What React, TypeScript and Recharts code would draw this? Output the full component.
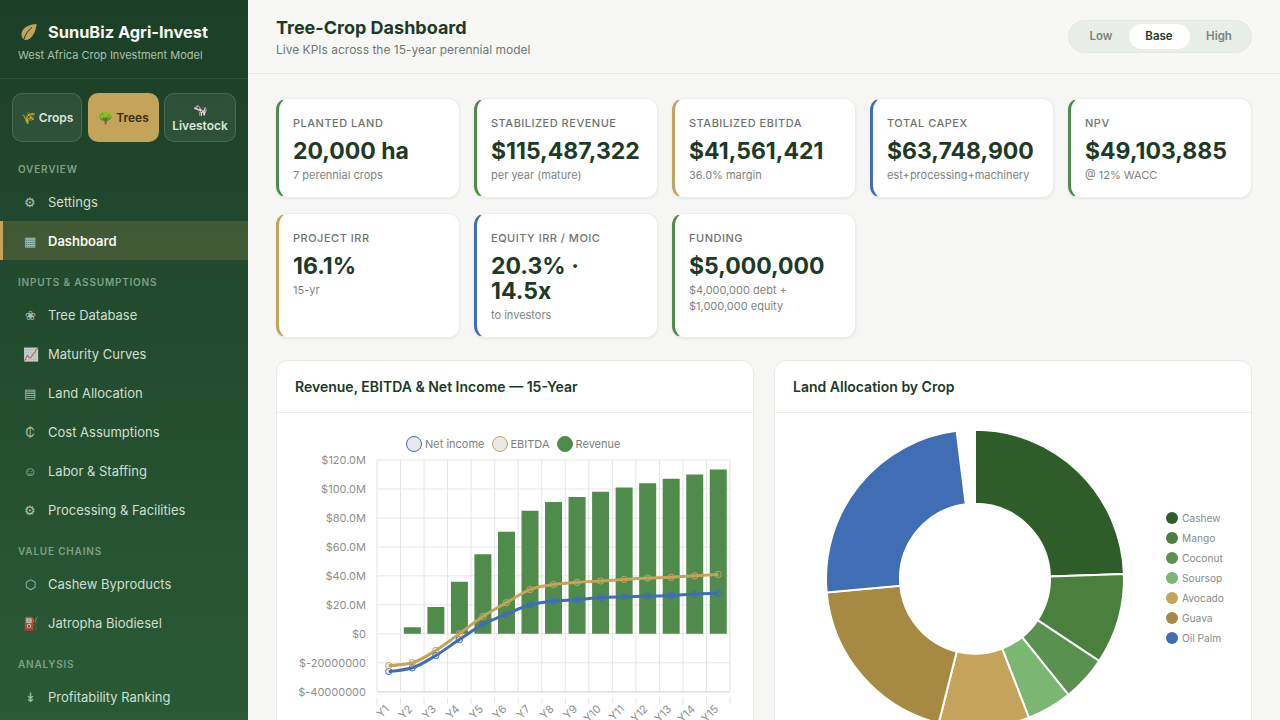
import React from 'react';
import { ComposedChart, Bar, Line, XAxis, YAxis, CartesianGrid, Legend, PieChart, Pie, Cell } from 'recharts';

const years = ['Y1','Y2','Y3','Y4','Y5','Y6','Y7','Y8','Y9','Y10','Y11','Y12','Y13','Y14','Y15'];
const revenue = [0,4.5,18.5,36,55,70.5,85,91,94.5,98,101,104,107,110,113.5];
const ebitda = [-22,-20,-11.5,0,12,21.5,30.5,34,35.5,36.5,37.5,38.5,39,40,41];
const netIncome = [-26,-23.5,-15,-4,6.5,13.5,20,22.5,23.5,25,25.5,26,26.5,27.5,28];
const yTicks = [-40,-20,0,20,40,60,80,100,120];
const yTickLabels = ['$-40000000','$-20000000','$0','$20.0M','$40.0M','$60.0M','$80.0M','$100.0M','$120.0M'];
const crops = ['Cashew','Mango','Coconut','Soursop','Avocado','Guava','Oil Palm'];
const hectares = [5000,2000,1000,1000,2000,4000,5000];
const cropColors = ['#2f5d2a','#4a7f3e','#5a9150','#7bb672','#c4a35a','#a68a42','#3f6eb5'];

const comboTable = years.map((y,i)=>({y, revenue:revenue[i], ebitda:ebitda[i], netIncome:netIncome[i]}));
const cropTable = crops.map((name,i)=>({name, value:hectares[i]}));

const GREEN='#4f8c4b', GOLD='#c4a35a', BLUE='#3f6eb5';
const font = "Inter, 'Noto Sans', sans-serif";

const kpis = [
  {label:'Planted Land', value:'20,000 ha', sub:'7 perennial crops', color:GREEN, x:276,y:98,h:100},
  {label:'Stabilized Revenue', value:'$115,487,322', sub:'per year (mature)', color:GREEN, x:474,y:98,h:100},
  {label:'Stabilized EBITDA', value:'$41,561,421', sub:'36.0% margin', color:GOLD, x:672,y:98,h:100},
  {label:'Total CAPEX', value:'$63,748,900', sub:'est+processing+machinery', color:BLUE, x:870,y:98,h:100},
  {label:'NPV', value:'$49,103,885', sub:'@ 12% WACC', color:GREEN, x:1068,y:98,h:100},
  {label:'Project IRR', value:'16.1%', sub:'15-yr', color:GOLD, x:276,y:213,h:125},
  {label:'Equity IRR / MOIC', value:'20.3% · 14.5x', sub:'to investors', color:BLUE, x:474,y:213,h:125},
  {label:'Funding', value:'$5,000,000', sub:'$4,000,000 debt + $1,000,000 equity', color:GREEN, x:672,y:213,h:125},
];

const nav: any[] = [
  {h:'OVERVIEW', y:170},
  {t:'Settings', i:'⚙', y:202},
  {t:'Dashboard', i:'▦', y:241, active:true},
  {h:'INPUTS & ASSUMPTIONS', y:283},
  {t:'Tree Database', i:'❀', y:315},
  {t:'Maturity Curves', i:'📈', y:354},
  {t:'Land Allocation', i:'▤', y:393},
  {t:'Cost Assumptions', i:'₵', y:432},
  {t:'Labor & Staffing', i:'☺', y:471},
  {t:'Processing & Facilities', i:'⚙', y:510},
  {h:'VALUE CHAINS', y:552},
  {t:'Cashew Byproducts', i:'⬡', y:584},
  {t:'Jatropha Biodiesel', i:'⛽', y:623},
  {h:'ANALYSIS', y:665},
  {t:'Profitability Ranking', i:'↡', y:697},
];

const abs=(x:number,y:number,w:number,h:number,extra:any={})=>({position:'absolute',left:x,top:y,width:w,height:h,boxSizing:'border-box',...extra});

function XTick(props:any){
  const {x,y,payload,index}=props;
  const half=payload.offset||0;
  const last=index===years.length-1;
  return <g>
    <line x1={x-half} x2={x-half} y1={y-2} y2={y+5} stroke="#e6e6e6"/>
    {last && <line x1={x+half} x2={x+half} y1={y-2} y2={y+5} stroke="#e6e6e6"/>}
    <text x={x+1} y={y+10} textAnchor="end" fontSize={11} fill="#8b908d" transform={`rotate(-45 ${x+1} ${y+10})`} fontFamily={font}>{payload.value}</text>
  </g>;
}

function ComboLegend(){
  const items=[{n:'Net income',c:BLUE,f:'#e6e8ea'},{n:'EBITDA',c:GOLD,f:'#e8e8e4'},{n:'Revenue',c:GREEN,f:GREEN}];
  return <div style={{display:'flex',gap:7,fontFamily:font,fontSize:11,color:'#7c817e',alignItems:'center',height:18}}>
    {items.map(it=><span key={it.n} style={{display:'flex',alignItems:'center',gap:3}}>
      <span style={{width:16,height:16,borderRadius:'50%',background:it.f,border:`1.3px solid ${it.c}`,boxSizing:'border-box',display:'inline-block'}}/>
      {it.n}</span>)}
  </div>;
}

function CropLegend(){
  return <div style={{fontFamily:font,fontSize:10.2,color:'#868b88'}}>
    {crops.map((n,i)=><div key={n} style={{display:'flex',alignItems:'center',height:20,gap:4}}>
      <span style={{width:12,height:12,borderRadius:'50%',background:cropColors[i],display:'inline-block'}}/>{n}</div>)}
  </div>;
}

export default function App(){
  return <div style={{position:'fixed',left:0,top:0,width:1280,height:720,overflow:'hidden',background:'#f6f7f5',fontFamily:font}}>
    {/* sidebar */}
    <div style={abs(0,0,248,720,{background:'linear-gradient(180deg,#1c3f27 0%,#2a5a35 100%)',color:'#fff'})}>
      <div style={abs(0,78,248,1,{background:'rgba(255,255,255,.07)'})}/>
      <svg style={{position:'absolute',left:20,top:23}} width="18" height="18" viewBox="0 0 18 18">
        <path d="M16.5 1C9 1.5 2 4.5 1.5 11c-.2 3 1.5 5.5 4 6C11.500 17 16 9 16.500 1Z" fill="#c4a35a"/>
        <path d="M4 16C5.500 11 8 7.500 12 4.500" stroke="#1c3f27" strokeWidth="1" fill="none"/>
      </svg>
      <div style={{position:'absolute',left:48,top:21,fontSize:16.4,fontWeight:700,lineHeight:'22px',whiteSpace:'nowrap',color:'#f6f8f4'}}>SunuBiz Agri-Invest</div>
      <div style={{position:'absolute',left:18,top:48,fontSize:11,lineHeight:'14px',whiteSpace:'nowrap',color:'#a9c0ab'}}>West Africa Crop Investment Model</div>
      {[{t:'🌾 Crops',x:12,w:70},{t:'🌳 Trees',x:88,w:71,a:true},{t:'🐄 Livestock',x:164,w:72}].map((b:any)=>
        <div key={b.t} style={abs(b.x,93,b.w,49,{borderRadius:10,background:b.a?GOLD:'rgba(255,255,255,.07)',border:b.a?'none':'1px solid rgba(255,255,255,.14)',color:b.a?'#3a2f10':'#dbe6dc',fontSize:12,fontWeight:600,display:'flex',alignItems:'center',justifyContent:'center',textAlign:'center',lineHeight:'16px'})}>{b.t}</div>)}
      {nav.map((n,i)=> n.h
        ? <div key={i} style={{position:'absolute',left:18,top:n.y-8,fontSize:10,fontWeight:600,letterSpacing:.8,lineHeight:'14px',color:'#7fa083',whiteSpace:'nowrap'}}>{n.h}</div>
        : <div key={i} style={abs(0,n.y-20,248,39,{background:n.active?'rgba(196,163,90,.2)':'transparent',borderLeft:n.active?`3px solid ${GOLD}`:'none'})}>
            <span style={{position:'absolute',left:n.active?20:23,width:14,top:12,textAlign:'center',fontSize:13,lineHeight:'16px',opacity:.75,color:'#d6e3d7'}}>{n.i}</span>
            <span style={{position:'absolute',left:n.active?45:48,top:11,fontSize:13,fontWeight:n.active?600:400,lineHeight:'18px',color:n.active?'#f4f7f2':'#cfdfd0',whiteSpace:'nowrap'}}>{n.t}</span>
          </div>)}
    </div>
    {/* header */}
    <div style={abs(248,0,1032,74,{borderBottom:'1px solid #e6e9e4',background:'#f7f8f6'})}>
      <div style={{position:'absolute',left:28,top:16,fontSize:18,fontWeight:700,lineHeight:'24px',color:'#1d3a26'}}>Tree-Crop Dashboard</div>
      <div style={{position:'absolute',left:28,top:41,fontSize:12,lineHeight:'17px',color:'#6f7872'}}>Live KPIs across the 15-year perennial model</div>
      <div style={abs(820,20,184,33,{borderRadius:17,background:'#e9eee8',border:'1px solid #e2e7e1'})}>
        {[{t:'Low',c:32},{t:'Base',c:90},{t:'High',c:150}].map(o=>
          <span key={o.t} style={{position:'absolute',left:o.c-30.5,width:61,top:3,height:25,lineHeight:'25px',textAlign:'center',fontSize:11.500,fontWeight:600,borderRadius:13,background:o.t==='Base'?'#fff':'transparent',color:o.t==='Base'?'#1d3a26':'#7b847e'}}>{o.t}</span>)}
      </div>
    </div>
    {/* KPI cards */}
    {kpis.map(k=><div key={k.label} style={abs(k.x,k.y,184,k.h,{background:'#fff',borderRadius:12,border:'1px solid #eceeea',borderLeft:`3px solid ${k.color}`,boxShadow:'0 1px 3px rgba(0,0,0,.07)',padding:`${k.y===213?16.5:17}px 16px 0 14px`})}>
      <div style={{fontSize:11,fontWeight:500,letterSpacing:.5,lineHeight:'15px',textTransform:'uppercase',color:'#6d756f',whiteSpace:'nowrap'}}>{k.label}</div>
      <div style={{fontSize:23,fontWeight:700,lineHeight:'25px',marginTop:8,color:'#1d3a26'}}>{k.value}</div>
      <div style={{fontSize:11,lineHeight:'16px',marginTop:3,color:'#7d847f'}}>{k.sub}</div>
    </div>)}
    {/* chart cards */}
    {[{x:276,t:'Revenue, EBITDA & Net Income — 15-Year'},{x:774,t:'Land Allocation by Crop'}].map(c=>
      <div key={c.x} style={abs(c.x,360,478,420,{background:'#fff',borderRadius:12,border:'1px solid #e8eae6'})}>
        <div style={abs(0,0,476,52,{borderBottom:'1px solid #eceeea',padding:'16px 18px',fontSize:14,fontWeight:600,lineHeight:'20px',color:'#1d3a26'})}>{c.t}</div>
      </div>)}
    <div style={{position:'absolute',left:277,top:413}}>
      <ComposedChart width={476} height={330} data={comboTable} margin={{top:47,right:23,bottom:11.300,left:0}} barCategoryGap="14%">
        <CartesianGrid vertical={false} stroke="#efefef" strokeWidth={1.500} syncWithTicks />
        <CartesianGrid horizontal={false} stroke="#e4e4e4" verticalCoordinatesGenerator={({offset}:any)=>Array.from({length:years.length+1},(_,i)=>offset.left+i*offset.width/years.length)} />
        <XAxis dataKey="y" height={40} interval={0} tick={<XTick/>} tickLine={false} axisLine={{stroke:'#e2e2e2',strokeWidth:1.500}} />
        <YAxis width={100} domain={[-40,120]} ticks={yTicks} interval={0} tickLine={false} axisLine={false} tickMargin={5} tickFormatter={(v:number)=>yTickLabels[yTicks.indexOf(v)]} tick={{fontSize:11,fill:'#8b908d',fontFamily:font}} />
        <Legend layout="horizontal" verticalAlign="middle" align="center" content={<ComboLegend/>} wrapperStyle={{top:22,left:129,width:300}} />
        <Bar dataKey="revenue" fill={GREEN} isAnimationActive={false} />
        <Line dataKey="netIncome" type="monotone" stroke="none" dot={{r:3.2,fill:'rgba(63,110,181,.12)',stroke:BLUE,strokeWidth:1}} isAnimationActive={false} />
        <Line dataKey="netIncome" type="monotone" stroke={BLUE} strokeWidth={3} dot={false} isAnimationActive={false} />
        <Line dataKey="ebitda" type="monotone" stroke="none" dot={{r:3.2,fill:'rgba(196,163,90,.12)',stroke:GOLD,strokeWidth:1}} isAnimationActive={false} />
        <Line dataKey="ebitda" type="monotone" stroke={GOLD} strokeWidth={3} dot={false} isAnimationActive={false} />
      </ComposedChart>
    </div>
    <div style={{position:'absolute',left:775,top:413}}>
      <PieChart width={476} height={330} margin={{top:0,right:0,bottom:0,left:0}}>
        <Pie data={cropTable} dataKey="value" nameKey="name" cx={200} cy={165.700} innerRadius={75} outerRadius={149} startAngle={90} endAngle={-262.900} stroke="#fff" strokeWidth={2} isAnimationActive={false}>
          {crops.map((n,i)=><Cell key={n} fill={cropColors[i]} />)}
        </Pie>
        <Legend layout="horizontal" verticalAlign="middle" align="center" content={<CropLegend/>} wrapperStyle={{top:95,left:391,width:80}} />
      </PieChart>
    </div>
  </div>;
}
